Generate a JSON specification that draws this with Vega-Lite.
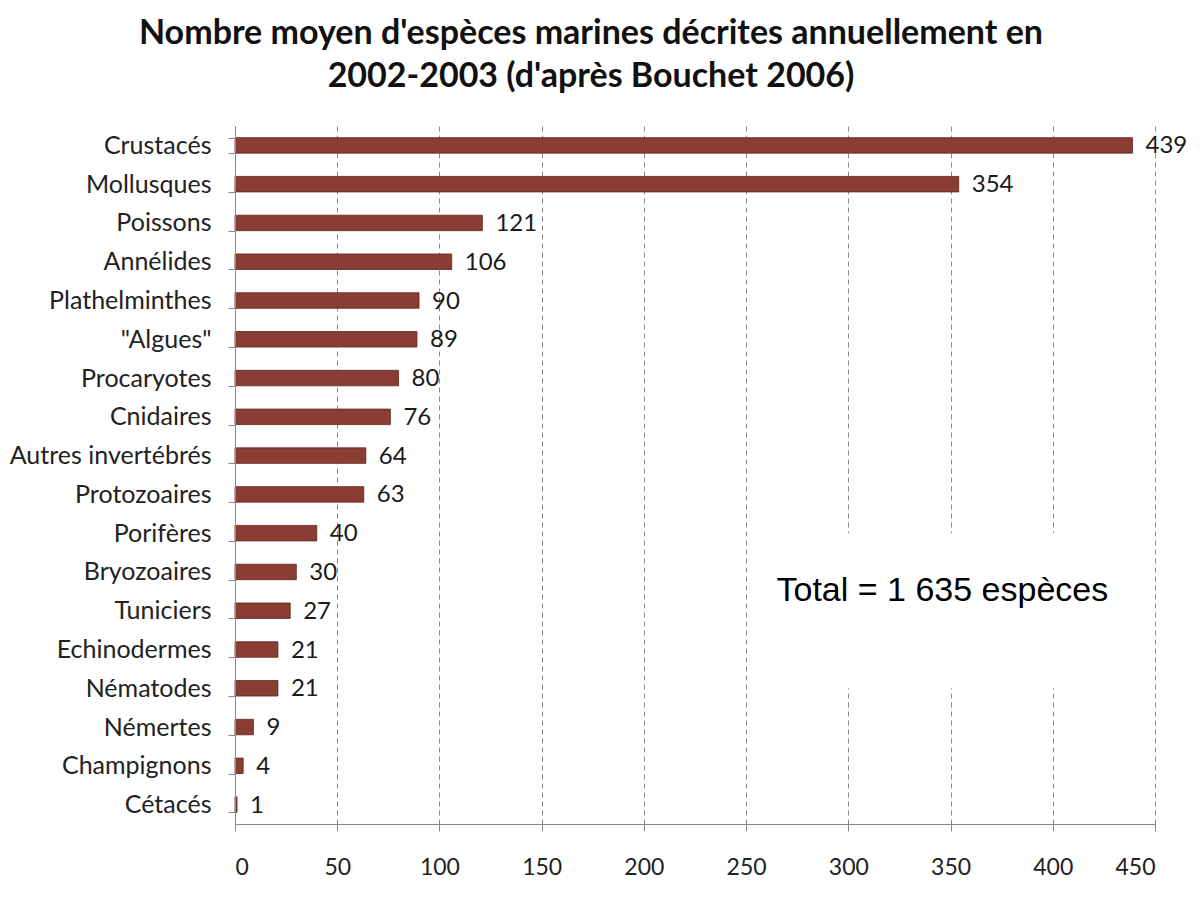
{
  "$schema": "https://vega.github.io/schema/vega-lite/v6.json",
  "width": 920,
  "height": 698,
  "autosize": "none",
  "padding": {"left": 235, "top": 126, "right": 45, "bottom": 74},
  "background": "white",
  "title": {
    "text": ["Nombre moyen d'espèces marines décrites annuellement en", "2002-2003 (d'après Bouchet 2006)"],
    "font": "Lato",
    "fontSize": 34,
    "fontWeight": "bold",
    "color": "#111111",
    "anchor": "middle",
    "frame": "group",
    "dx": -104,
    "offset": 20,
    "lineHeight": 43
  },
  "config": {"view": {"stroke": null}},
  "data": {
    "values": [
      {"groupe": "Crustacés", "n": 439},
      {"groupe": "Mollusques", "n": 354},
      {"groupe": "Poissons", "n": 121},
      {"groupe": "Annélides", "n": 106},
      {"groupe": "Plathelminthes", "n": 90},
      {"groupe": "\"Algues\"", "n": 89},
      {"groupe": "Procaryotes", "n": 80},
      {"groupe": "Cnidaires", "n": 76},
      {"groupe": "Autres invertébrés", "n": 64},
      {"groupe": "Protozoaires", "n": 63},
      {"groupe": "Porifères", "n": 40},
      {"groupe": "Bryozoaires", "n": 30},
      {"groupe": "Tuniciers", "n": 27},
      {"groupe": "Echinodermes", "n": 21},
      {"groupe": "Nématodes", "n": 21},
      {"groupe": "Némertes", "n": 9},
      {"groupe": "Champignons", "n": 4},
      {"groupe": "Cétacés", "n": 1}
    ]
  },
  "encoding": {
    "y": {
      "field": "groupe",
      "type": "nominal",
      "sort": null,
      "scale": {
        "domain": ["Crustacés", "Mollusques", "Poissons", "Annélides", "Plathelminthes", "\"Algues\"", "Procaryotes", "Cnidaires", "Autres invertébrés", "Protozoaires", "Porifères", "Bryozoaires", "Tuniciers", "Echinodermes", "Nématodes", "Némertes", "Champignons", "Cétacés"],
        "paddingInner": 0.6,
        "paddingOuter": 0.3
      },
      "axis": {
        "title": null,
        "domainColor": "#888888",
        "tickColor": "#888888",
        "tickSize": 7,
        "tickBand": "extent",
        "labelFont": "Lato",
        "labelFontSize": 25,
        "labelColor": "#222222",
        "labelPadding": 17,
        "labelLimit": 300,
        "grid": false
      }
    },
    "x": {
      "field": "n",
      "type": "quantitative",
      "scale": {"domain": [0, 450], "nice": false},
      "axis": {
        "title": null,
        "values": [0, 50, 100, 150, 200, 250, 300, 350, 400, 450],
        "grid": true,
        "gridDash": [5, 4],
        "gridColor": "#888888",
        "domainColor": "#888888",
        "tickColor": "#888888",
        "tickSize": 7,
        "labelFont": "Lato",
        "labelFontSize": 23,
        "labelColor": "#222222",
        "labelPadding": 25
      }
    }
  },
  "layer": [
    {
      "transform": [{"filter": {"field": "groupe", "equal": "Crustacés"}}],
      "mark": {"type": "rect", "color": "white"},
      "encoding": {
        "x": {"datum": 256},
        "x2": {"datum": 444},
        "y": {"datum": "Porifères"},
        "y2": {"datum": "Nématodes"}
      }
    },
    {
      "mark": {"type": "bar", "color": "#8a3e33", "stroke": "#5e261f", "strokeWidth": 0.8}
    },
    {
      "mark": {"type": "text", "align": "left", "baseline": "middle", "dx": 13, "dy": 1, "font": "Lato", "fontSize": 24, "color": "#1a1a1a"},
      "encoding": {"text": {"field": "n", "type": "quantitative"}}
    },
    {
      "transform": [{"filter": {"field": "groupe", "equal": "Crustacés"}}],
      "mark": {"type": "text", "text": "Total = 1 635 espèces", "align": "center", "baseline": "middle", "dy": 19, "font": "Liberation Sans", "fontSize": 34, "color": "#000000"},
      "encoding": {
        "x": {"datum": 346},
        "y": {"datum": "Bryozoaires"}
      }
    }
  ]
}
